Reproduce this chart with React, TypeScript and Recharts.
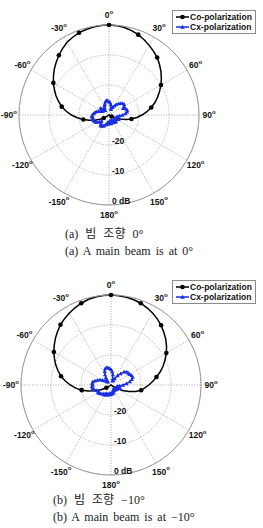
import React from 'react';
import { RadarChart, Radar, PolarGrid, PolarAngleAxis, PolarRadiusAxis, Legend } from 'recharts';

// Angles (degrees, clockwise from boresight), 5° steps
const ANGLES = [
  0, 5, 10, 15, 20, 25, 30, 35, 40, 45, 50, 55, 60, 65, 70, 75, 80, 85, 90, 95,
  100, 105, 110, 115, 120, 125, 130, 135, 140, 145, 150, 155, 160, 165, 170, 175,
  180, 185, 190, 195, 200, 205, 210, 215, 220, 225, 230, 235, 240, 245, 250, 255,
  260, 265, 270, 275, 280, 285, 290, 295, 300, 305, 310, 315, 320, 325, 330, 335,
  340, 345, 350, 355,
];

// (a) beam at 0°
const CO_A = [
  0, -0.1, -0.4, -0.9, -1.5, -2.3, -3.2, -4.1, -5.0, -6.2, -7.4, -8.7, -10.0, -11.4, -12.8, -14.2,
  -15.7, -17.3, -19.0, -20.7, -22.4, -24.2, -26.0, -27.6, -29.0,
  -30, -30, -30, -30, -30, -30, -30, -30, -30, -30, -30, -30, -30, -30, -30, -30, -30, -30, -30, -30, -30, -30,
  -29.2, -28.0, -26.6, -25.0, -23.2, -21.3, -19.4, -17.5, -15.7, -14.0, -12.6, -11.2, -9.9, -8.6,
  -7.4, -6.2, -5.1, -4.0, -3.0, -2.0, -1.4, -0.8, -0.5, -0.2, -0.05,
];
const CX_A = [
  -25.5, -25.8, -26.5, -27.5, -28.0, -27.2, -26.5, -25.8, -25.0, -24.5,
  -24.0, -23.8, -24.2, -24.8, -24.0, -23.7, -23.9, -24.5, -25.5, -26.5,
  -27.0, -27.5, -27.0, -26.5, -27.2, -27.8, -27.0, -26.8, -27.5, -27.0,
  -27.8, -28.2, -27.5, -27.0, -27.6, -28.0, -27.2, -27.0, -27.5, -26.8,
  -26.5, -26.0, -25.8, -25.5, -25.6, -26.2, -26.8, -26.0, -25.2, -24.8,
  -24.5, -24.3, -24.6, -24.2, -24.4, -24.8, -25.2, -25.6, -26.3, -27.0,
  -27.6, -27.0, -26.4, -27.2, -28.0, -27.4, -27.0, -26.4, -26.0, -25.4,
  -25.0, -25.2,
];

// (b) beam at -10°
const CO_B = [
  0, -0.1, -0.3, -0.6, -1.0, -1.6, -2.3, -3.1, -4.0, -5.1, -6.2, -7.4, -8.7, -10.1, -11.5, -13.0,
  -14.6, -16.0, -17.4, -18.7, -19.8, -21.6, -23.6, -25.7, -27.8, -29.3,
  -30, -30, -30, -30, -30, -30, -30, -30, -30, -30, -30, -30, -30, -30, -30, -30, -30, -30, -30, -30, -30,
  -29.5, -28.2, -26.3, -24.3, -22.2, -20.1, -18.2, -16.4, -14.7, -13.1, -11.7, -10.4, -9.2, -8.0,
  -6.9, -5.8, -4.8, -3.8, -3.0, -2.3, -1.6, -1.0, -0.5, -0.2, -0.05,
];
const CX_B = [
  -24.8, -25.5, -26.5, -27.8, -28.5, -28.3, -27.5, -26.2, -25.0, -23.8,
  -23.2, -23.0, -22.8, -22.4, -22.3, -22.8, -23.6, -24.8, -26.0, -27.2,
  -27.8, -27.3, -26.8, -27.4, -28.0, -27.6, -28.2, -27.8, -28.3, -27.9,
  -28.4, -28.0, -27.6, -27.2, -27.5, -27.0, -27.3, -26.8, -27.2, -26.6,
  -26.9, -26.4, -26.8, -26.0, -26.3, -25.8, -25.5, -25.2, -25.0, -25.3,
  -24.8, -24.2, -23.8, -23.6, -23.9, -23.7, -23.8, -24.5, -25.2, -26.0,
  -26.8, -27.6, -28.2, -28.5, -28.0, -27.0, -26.0, -25.0, -24.2, -24.0,
  -24.1, -24.4,
];

const ANGLE_TICKS = [0, 30, 60, 90, 120, 150, 180, 210, 240, 270, 300, 330];
const RADIUS_TICKS = [-20, -10, 0];
const RADIUS_DOMAIN = [-30, 0];
const MARKER_STEP = 20;

const CO_NAME = 'Co-polarization';
const CX_NAME = 'Cx-polarization';
const CO_COLOR = '#000000';
const CX_COLOR = '#1a2fe0';

const CAPTION_A = ['(a) 빔 조향 0°', '(a) A main beam is at 0°'];
const CAPTION_B = ['(b) 빔 조향 −10°', '(b) A main beam is at −10°'];

const buildData = (co: number[], cx: number[]) =>
  ANGLES.map((a, i) => ({ angle: a, co: co[i], cx: cx[i] }));

const DATA_A = buildData(CO_A, CX_A);
const DATA_B = buildData(CO_B, CX_B);

const LABEL_FONT = '"Liberation Sans", Arial, sans-serif';

const AngleTick = (props: any) => {
  const { x, y, payload } = props;
  const rad = (-payload.coordinate * Math.PI) / 180;
  const tx = x + Math.cos(rad) * 2;
  const ty = y + Math.sin(rad) * 2;
  const v = payload.value > 180 ? payload.value - 360 : payload.value;
  return (
    <text x={tx} y={ty} textAnchor="middle" dominantBaseline="central" fontFamily={LABEL_FONT}
      fontWeight="bold" fontSize={8.5} fill="#111">
      {v}
      <tspan dy={-3.5} fontSize={6}>o</tspan>
    </text>
  );
};

const RadiusTick = (props: any) => {
  const { x, y, payload } = props;
  const label = payload.value === 0 ? '0 dB' : String(payload.value);
  return (
    <text x={x + 3} y={y - 4} textAnchor="start" dominantBaseline="central" fontFamily={LABEL_FONT}
      fontWeight="bold" fontSize={8.5} fill="#111">
      {label}
    </text>
  );
};

const CoDot = (props: any) => {
  const { cx, cy, index } = props;
  const a = ANGLES[index];
  const v = props.value;
  const val = Array.isArray(v) ? v[1] : v;
  if (a % MARKER_STEP !== 0 || (typeof val === 'number' && val <= -30)) return <g key={`c${index}`} />;
  return <circle key={`c${index}`} cx={cx} cy={cy} r={2.3} fill={CO_COLOR} stroke="none" />;
};

const CxDot = (props: any) => {
  const { cx, cy, index } = props;
  const s = 2.1;
  return (
    <path key={`t${index}`} d={`M${cx},${cy - s} L${cx + s},${cy + s * 0.8} L${cx - s},${cy + s * 0.8} Z`}
      fill={CX_COLOR} stroke="none" />
  );
};

const LEGEND_ITEMS = [
  { name: CO_NAME, color: CO_COLOR, marker: 'circle' },
  { name: CX_NAME, color: CX_COLOR, marker: 'triangle' },
];

const LegendBox = () => (
  <div style={{
    border: '1px solid #8a8a8a', background: '#fff', padding: '1px 3px 1px 2px',
    fontFamily: LABEL_FONT, fontWeight: 'bold', fontSize: 8.5, lineHeight: '10px', color: '#111',
    whiteSpace: 'nowrap',
  }}>
    {LEGEND_ITEMS.map((it) => (
      <div key={it.name} style={{ display: 'flex', alignItems: 'center', height: 10 }}>
        <svg width={15} height={10} style={{ display: 'block' }}>
          <line x1={1} y1={5} x2={14} y2={5} stroke={it.color} strokeWidth={1.5} />
          {it.marker === 'circle'
            ? <circle cx={7.5} cy={5} r={2.3} fill={it.color} />
            : <path d="M7.5,2.8 L9.8,6.8 L5.2,6.8 Z" fill={it.color} />}
        </svg>
        <span>{it.name}</span>
      </div>
    ))}
  </div>
);

const PolarPanel = ({ data, cx }: { data: any[]; cx: number }) => (
  <RadarChart width={263} height={230} data={data} cx={cx} cy={115} outerRadius={90}
    startAngle={90} endAngle={-270} margin={{ top: 0, right: 0, bottom: 0, left: 0 }}>
    <PolarGrid gridType="circle" stroke="#a8a8a8" strokeDasharray="1 1.6" />
    <PolarAngleAxis dataKey="angle" type="number" domain={[0, 360]} ticks={ANGLE_TICKS}
      tick={<AngleTick />} tickLine={false} axisLineType="circle"
      axisLine={{ stroke: '#9a9a9a', strokeWidth: 1 }} />
    <PolarRadiusAxis type="number" domain={RADIUS_DOMAIN} ticks={RADIUS_TICKS} angle={-90}
      axisLine={false} tickLine={false} tick={<RadiusTick />} allowDataOverflow />
    <Radar dataKey="co" name={CO_NAME} stroke={CO_COLOR} strokeWidth={1.5} fill="none" fillOpacity={0}
      dot={CoDot} isAnimationActive={false} />
    <Radar dataKey="cx" name={CX_NAME} stroke={CX_COLOR} strokeWidth={1.4} fill="none" fillOpacity={0}
      dot={CxDot} isAnimationActive={false} />
    <Legend content={<LegendBox />} wrapperStyle={{ left: 172, top: 10, width: 'auto', height: 'auto' }} />
  </RadarChart>
);

const captionStyle: React.CSSProperties = {
  position: 'absolute',
  fontFamily: '"Liberation Serif", "Times New Roman", "Noto Sans CJK KR", serif',
  fontSize: 12,
  lineHeight: '17px',
  wordSpacing: 2,
  color: '#222',
  whiteSpace: 'nowrap',
};

export default function App() {
  return (
    <div style={{ position: 'absolute', left: 0, top: 0, width: 263, height: 528, background: '#fff' }}>
      <div style={{ position: 'absolute', left: 0, top: 0 }}>
        <PolarPanel data={DATA_A} cx={109} />
      </div>
      <div style={{ ...captionStyle, left: 65, top: 226 }}>
        <div style={{ wordSpacing: 4 }}>{CAPTION_A[0]}</div>
        <div>{CAPTION_A[1]}</div>
      </div>
      <div style={{ position: 'absolute', left: 0, top: 270 }}>
        <PolarPanel data={DATA_B} cx={111} />
      </div>
      <div style={{ ...captionStyle, left: 53, top: 492 }}>
        <div style={{ wordSpacing: 4 }}>{CAPTION_B[0]}</div>
        <div>{CAPTION_B[1]}</div>
      </div>
    </div>
  );
}
